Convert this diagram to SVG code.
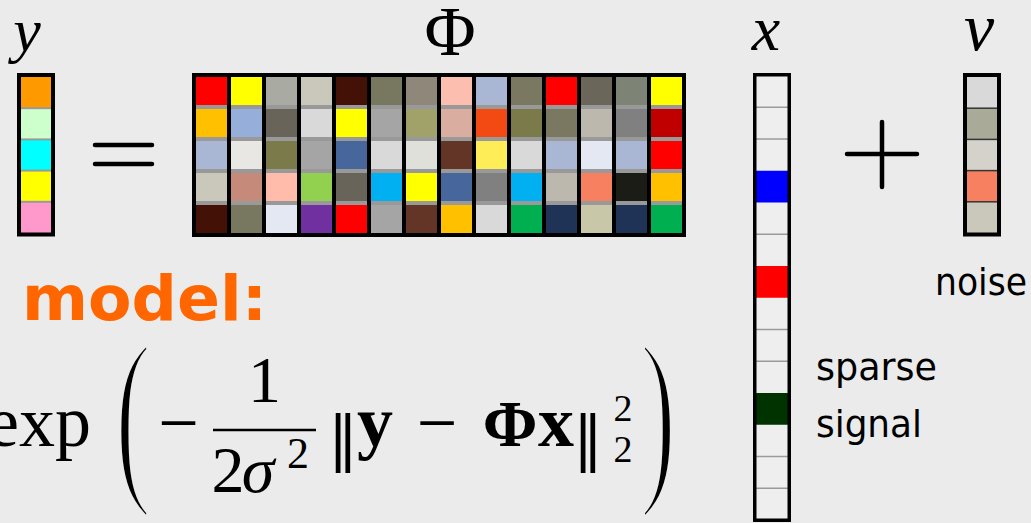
<svg xmlns="http://www.w3.org/2000/svg" width="1031" height="523" viewBox="0 0 1031 523">
<style>
.lbl{font-family:"Liberation Serif","Times New Roman",serif;font-style:italic;fill:#000}
.math{font-family:"Liberation Serif","Times New Roman",serif;fill:#000}
.norm{font-family:"DejaVu Serif",serif;fill:#000}
.b{font-weight:bold}
.paren{font-family:"Liberation Serif","Times New Roman",serif;font-size:194px;fill:#000;stroke:#EBEBEB;stroke-width:5.5;stroke-linejoin:round}
.note{font-family:"DejaVu Sans","Noto Sans",sans-serif;font-size:38px;fill:#000}
.model{font-family:"DejaVu Sans",sans-serif;font-weight:bold;font-size:63px;fill:#FF6600}
.frame{fill:none;stroke:#000;stroke-width:4}
.gdiv{stroke:#999;stroke-width:2}
.tdiv{stroke:#9a9a9a;stroke-width:1.5}
.ddiv{stroke:#333;stroke-width:1.5}
.op{stroke:#000;stroke-width:4.5;stroke-linecap:round}
</style>
<rect x="0" y="0" width="1031" height="523" fill="#EBEBEB"/>

<g id="labels">
<text class="lbl" x="27" y="51" font-size="62" text-anchor="middle">y</text>
<text class="math" x="450" y="55" font-size="70" text-anchor="middle">Φ</text>
<text class="lbl" x="766" y="50" font-size="64" text-anchor="middle">x</text>
<text class="lbl" x="979" y="50" font-size="68" text-anchor="middle">v</text>
</g>

<g id="y-vector">
<rect x="21" y="77" width="31" height="31.2" fill="#FF9900"/>
<rect x="21" y="108.2" width="31" height="31.2" fill="#CCFFCC"/>
<rect x="21" y="139.4" width="31" height="31.2" fill="#00FFFF"/>
<rect x="21" y="170.6" width="31" height="31.2" fill="#FFFF00"/>
<rect x="21" y="201.8" width="31" height="31.2" fill="#FF99CC"/>
<line class="gdiv" x1="21" y1="108.2" x2="52" y2="108.2"/>
<line class="gdiv" x1="21" y1="139.4" x2="52" y2="139.4"/>
<line class="gdiv" x1="21" y1="170.6" x2="52" y2="170.6"/>
<line class="gdiv" x1="21" y1="201.8" x2="52" y2="201.8"/>
<rect class="frame" x="19" y="75" width="34" height="159.5"/>
</g>

<g id="equals">
<line class="op" x1="95" y1="145" x2="152" y2="145"/>
<line class="op" x1="95" y1="164" x2="152" y2="164"/>
</g>

<g id="phi-matrix">
<rect x="192" y="73" width="494" height="164" fill="#000"/>
<g fill="#999">
<rect x="196" y="77" width="31" height="156"/><rect x="231" y="77" width="31" height="156"/><rect x="266" y="77" width="31" height="156"/><rect x="301" y="77" width="31" height="156"/><rect x="336" y="77" width="31" height="156"/><rect x="371" y="77" width="31" height="156"/><rect x="406" y="77" width="31" height="156"/><rect x="441" y="77" width="31" height="156"/><rect x="476" y="77" width="31" height="156"/><rect x="511" y="77" width="31" height="156"/><rect x="546" y="77" width="31" height="156"/><rect x="581" y="77" width="31" height="156"/><rect x="616" y="77" width="31" height="156"/><rect x="651" y="77" width="31" height="156"/>
</g>
<rect x="196" y="77" width="31" height="28" fill="#FF0000"/><rect x="196" y="109" width="31" height="28" fill="#FFC000"/><rect x="196" y="141" width="31" height="28" fill="#A9B6D4"/><rect x="196" y="173" width="31" height="28" fill="#C9C8BB"/><rect x="196" y="205" width="31" height="28" fill="#431106"/>
<rect x="231" y="77" width="31" height="28" fill="#FFFF00"/><rect x="231" y="109" width="31" height="28" fill="#95AEDA"/><rect x="231" y="141" width="31" height="28" fill="#E8E7E3"/><rect x="231" y="173" width="31" height="28" fill="#C58A7A"/><rect x="231" y="205" width="31" height="28" fill="#787760"/>
<rect x="266" y="77" width="31" height="28" fill="#A9AAA2"/><rect x="266" y="109" width="31" height="28" fill="#68645A"/><rect x="266" y="141" width="31" height="28" fill="#7A7A4A"/><rect x="266" y="173" width="31" height="28" fill="#FFBCAA"/><rect x="266" y="205" width="31" height="28" fill="#E3E8F2"/>
<rect x="301" y="77" width="31" height="28" fill="#C9C8BB"/><rect x="301" y="109" width="31" height="28" fill="#D9D9D9"/><rect x="301" y="141" width="31" height="28" fill="#A5A5A5"/><rect x="301" y="173" width="31" height="28" fill="#92D050"/><rect x="301" y="205" width="31" height="28" fill="#7030A0"/>
<rect x="336" y="77" width="31" height="28" fill="#431106"/><rect x="336" y="109" width="31" height="28" fill="#FFFF00"/><rect x="336" y="141" width="31" height="28" fill="#47669B"/><rect x="336" y="173" width="31" height="28" fill="#68645A"/><rect x="336" y="205" width="31" height="28" fill="#FF0000"/>
<rect x="371" y="77" width="31" height="28" fill="#787760"/><rect x="371" y="109" width="31" height="28" fill="#A5A5A5"/><rect x="371" y="141" width="31" height="28" fill="#D9D9D9"/><rect x="371" y="173" width="31" height="28" fill="#00B0F0"/><rect x="371" y="205" width="31" height="28" fill="#A5A5A5"/>
<rect x="406" y="77" width="31" height="28" fill="#8E877A"/><rect x="406" y="109" width="31" height="28" fill="#A1A26A"/><rect x="406" y="141" width="31" height="28" fill="#E0E0DA"/><rect x="406" y="173" width="31" height="28" fill="#FFFF00"/><rect x="406" y="205" width="31" height="28" fill="#633526"/>
<rect x="441" y="77" width="31" height="28" fill="#FCBEAF"/><rect x="441" y="109" width="31" height="28" fill="#D9ADA0"/><rect x="441" y="141" width="31" height="28" fill="#633526"/><rect x="441" y="173" width="31" height="28" fill="#47669B"/><rect x="441" y="205" width="31" height="28" fill="#FFC000"/>
<rect x="476" y="77" width="31" height="28" fill="#A9B6D4"/><rect x="476" y="109" width="31" height="28" fill="#F34A14"/><rect x="476" y="141" width="31" height="28" fill="#FEED57"/><rect x="476" y="173" width="31" height="28" fill="#808080"/><rect x="476" y="205" width="31" height="28" fill="#D9D9D9"/>
<rect x="511" y="77" width="31" height="28" fill="#7A7861"/><rect x="511" y="109" width="31" height="28" fill="#7A7A4A"/><rect x="511" y="141" width="31" height="28" fill="#D9D9D9"/><rect x="511" y="173" width="31" height="28" fill="#00B0F0"/><rect x="511" y="205" width="31" height="28" fill="#00B050"/>
<rect x="546" y="77" width="31" height="28" fill="#FF0000"/><rect x="546" y="109" width="31" height="28" fill="#7A7861"/><rect x="546" y="141" width="31" height="28" fill="#A9B6D4"/><rect x="546" y="173" width="31" height="28" fill="#BCB8AE"/><rect x="546" y="205" width="31" height="28" fill="#1F3356"/>
<rect x="581" y="77" width="31" height="28" fill="#6A6659"/><rect x="581" y="109" width="31" height="28" fill="#BCB8AE"/><rect x="581" y="141" width="31" height="28" fill="#E3E8F2"/><rect x="581" y="173" width="31" height="28" fill="#F68060"/><rect x="581" y="205" width="31" height="28" fill="#C8C8A8"/>
<rect x="616" y="77" width="31" height="28" fill="#7D8476"/><rect x="616" y="109" width="31" height="28" fill="#808080"/><rect x="616" y="141" width="31" height="28" fill="#A9B6D4"/><rect x="616" y="173" width="31" height="28" fill="#1C1C17"/><rect x="616" y="205" width="31" height="28" fill="#1F3356"/>
<rect x="651" y="77" width="31" height="28" fill="#FFFF00"/><rect x="651" y="109" width="31" height="28" fill="#C00000"/><rect x="651" y="141" width="31" height="28" fill="#FF0000"/><rect x="651" y="173" width="31" height="28" fill="#FFC000"/><rect x="651" y="205" width="31" height="28" fill="#00B050"/>
</g>

<g id="x-vector">
<rect x="756" y="76" width="32" height="444" fill="#EEEEEE"/>
<line class="tdiv" x1="756" y1="107.25" x2="788" y2="107.25"/>
<line class="tdiv" x1="756" y1="139" x2="788" y2="139"/>
<line class="tdiv" x1="756" y1="234.25" x2="788" y2="234.25"/>
<line class="tdiv" x1="756" y1="329.5" x2="788" y2="329.5"/>
<line class="tdiv" x1="756" y1="361.25" x2="788" y2="361.25"/>
<line class="tdiv" x1="756" y1="456.5" x2="788" y2="456.5"/>
<line class="tdiv" x1="756" y1="488.25" x2="788" y2="488.25"/>
<rect x="756" y="170.75" width="32" height="31.75" fill="#0000FF"/>
<rect x="756" y="266" width="32" height="31.75" fill="#FF0000"/>
<rect x="756" y="393" width="32" height="31.75" fill="#003300"/>
<rect x="754.75" y="74.75" width="34.5" height="445.5" fill="none" stroke="#000" stroke-width="3.5"/>
</g>

<g id="plus">
<line class="op" x1="847" y1="154" x2="917" y2="154"/>
<line class="op" x1="882" y1="122" x2="882" y2="187"/>
</g>

<g id="v-vector">
<rect x="966" y="77" width="32" height="31.2" fill="#D9D9D9"/>
<rect x="966" y="108.2" width="32" height="31.2" fill="#A9AA98"/>
<rect x="966" y="139.4" width="32" height="31.2" fill="#D5D2CC"/>
<rect x="966" y="170.6" width="32" height="31.2" fill="#F68060"/>
<rect x="966" y="201.8" width="32" height="31.2" fill="#C9C8BB"/>
<line class="ddiv" x1="966" y1="108.2" x2="998" y2="108.2"/>
<line class="ddiv" x1="966" y1="139.4" x2="998" y2="139.4"/>
<line class="ddiv" x1="966" y1="170.6" x2="998" y2="170.6"/>
<line class="ddiv" x1="966" y1="201.8" x2="998" y2="201.8"/>
<rect class="frame" x="965" y="75" width="34" height="159.5"/>
</g>

<g id="annotations">
<text class="note" x="935" y="295" textLength="92" lengthAdjust="spacingAndGlyphs">noise</text>
<text class="note" x="816" y="380" textLength="121" lengthAdjust="spacingAndGlyphs">sparse</text>
<text class="note" x="816" y="437" textLength="106" lengthAdjust="spacingAndGlyphs">signal</text>
<text class="model" x="22" y="320" textLength="245" lengthAdjust="spacingAndGlyphs">model:</text>
</g>

<g id="formula">
<text class="math" x="91" y="446" font-size="72" text-anchor="end">exp</text>
<text class="paren" transform="translate(115,478) scale(0.56,1)">(</text>
<text class="math" x="178.5" y="447" font-size="72" text-anchor="middle">−</text>
<line x1="213" y1="430" x2="316" y2="430" stroke="#000" stroke-width="2.6"/>
<text class="math" x="264.5" y="402" font-size="66" text-anchor="middle">1</text>
<text class="math" x="228" y="492" font-size="66" text-anchor="middle">2</text>
<text class="lbl" x="258" y="492" font-size="66" text-anchor="middle">σ</text>
<text class="math" x="298" y="468" font-size="44" text-anchor="middle">2</text>
<text class="norm" x="343" y="459" font-size="60" text-anchor="middle">‖</text>
<text class="math b" x="375" y="446" font-size="72" text-anchor="middle">y</text>
<text class="math" x="437" y="447" font-size="72" text-anchor="middle">−</text>
<text class="math b" x="510" y="446" font-size="66" text-anchor="middle">Φ</text>
<text class="math b" x="556" y="446" font-size="72" text-anchor="middle">x</text>
<text class="norm" x="588" y="459" font-size="60" text-anchor="middle">‖</text>
<text class="math" x="623" y="421" font-size="38" text-anchor="middle">2</text>
<text class="math" x="623" y="462" font-size="38" text-anchor="middle">2</text>
<text class="paren" transform="translate(640,478) scale(0.56,1)">)</text>
</g>
</svg>
